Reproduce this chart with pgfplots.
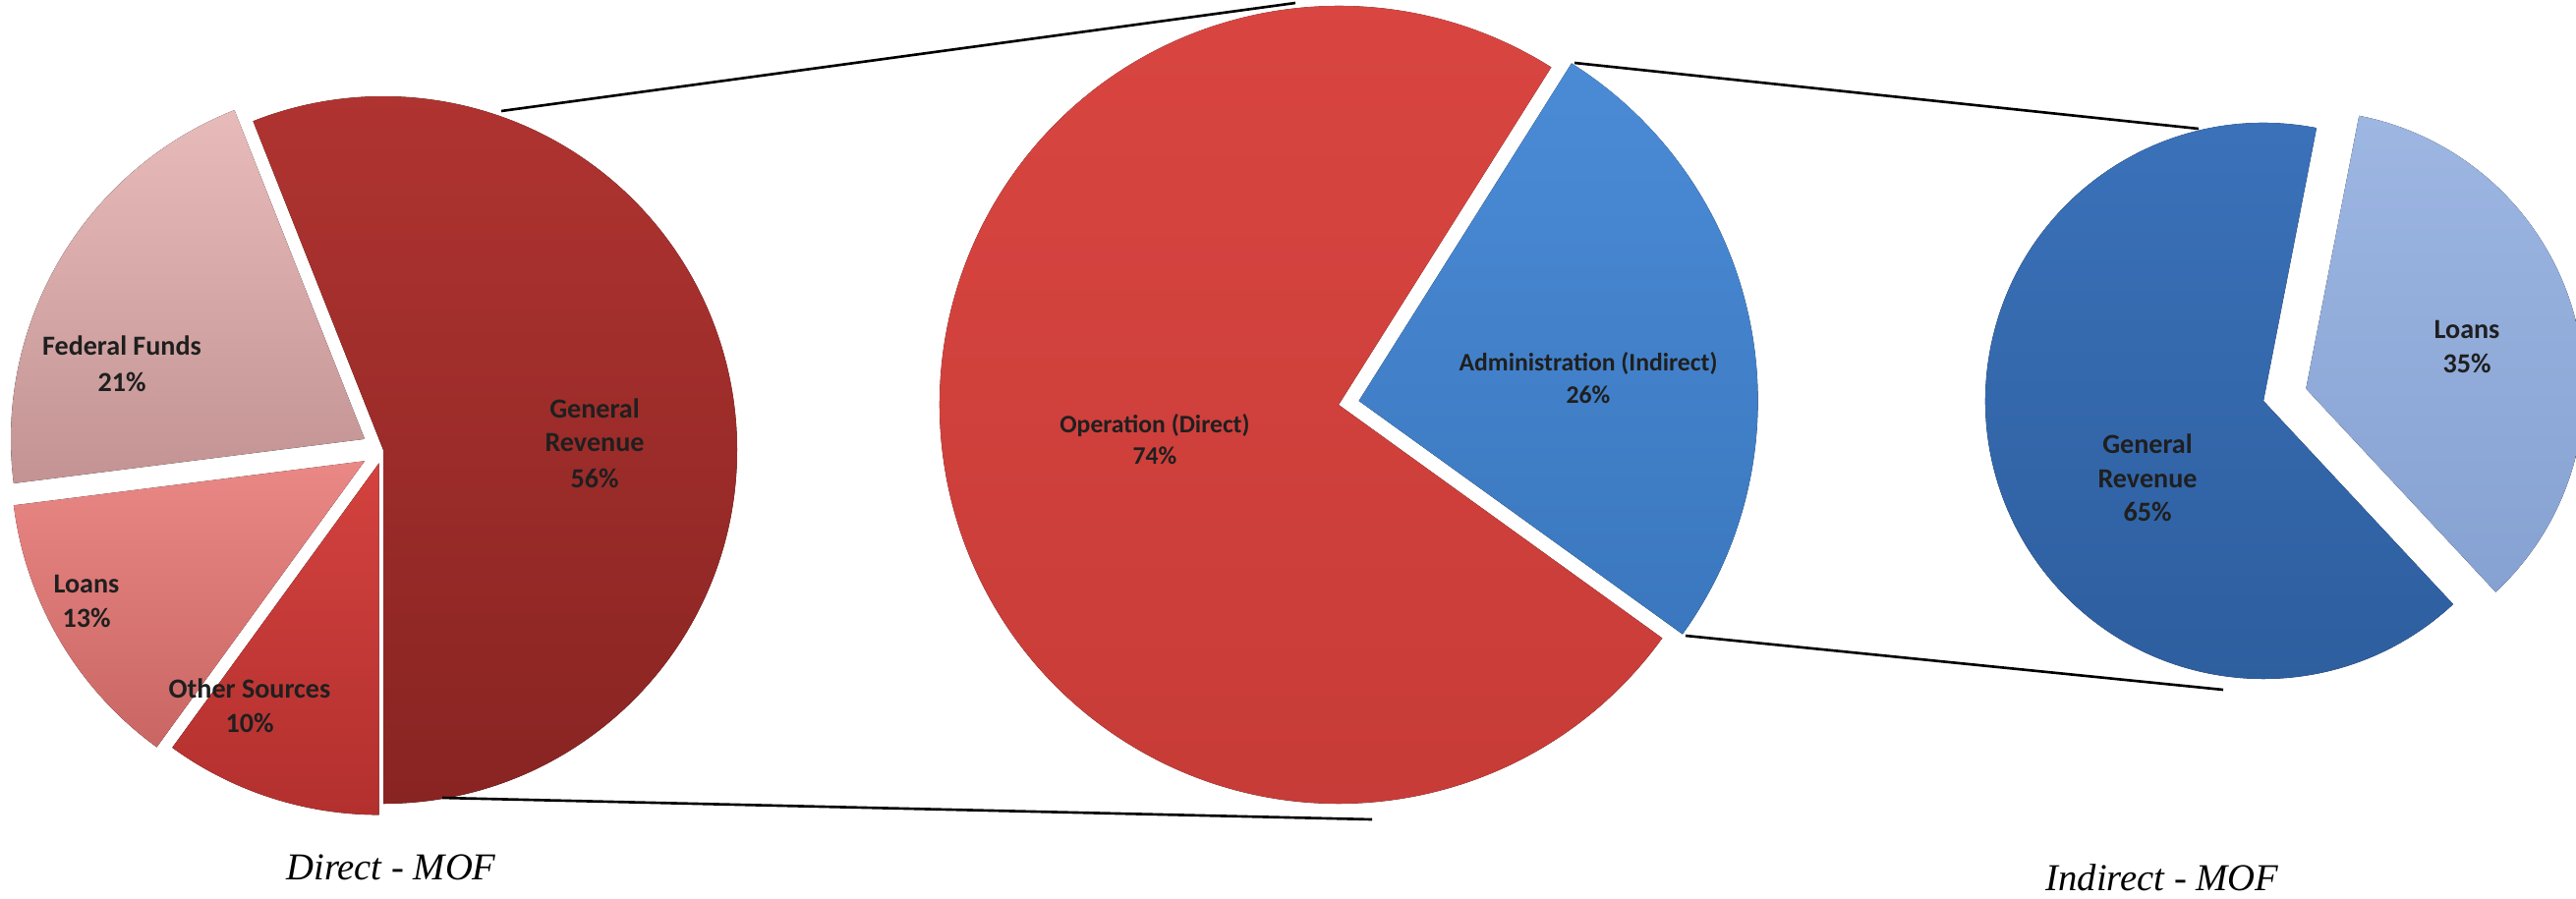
\documentclass[border=0pt]{standalone}
\usepackage{fontspec}
\setmainfont{Carlito}
\newfontfamily\titlefont{Liberation Serif}
\usepackage{pgfplots}
\pgfplotsset{compat=1.18}

% slice: {cx}{cy}{r}{start angle}{percent}{explode}{top colour}{bottom colour}
\newcommand{\slice}[8]{%
  \fill[top color=#7, bottom color=#8, draw=none]
    (axis cs:{#1+#6*cos(#4+1.8*#5)},{#2+#6*sin(#4+1.8*#5)})
    -- (axis cs:{#1+#6*cos(#4+1.8*#5)+#3*cos(#4)},{#2+#6*sin(#4+1.8*#5)+#3*sin(#4)})
    arc[start angle=#4, end angle={#4+3.6*#5}, radius=#3] -- cycle;}

\definecolor{lgrT}{HTML}{B03431}\definecolor{lgrB}{HTML}{882422}
\definecolor{lffT}{HTML}{E8BBBB}\definecolor{lffB}{HTML}{C39393}
\definecolor{llnT}{HTML}{EA8886}\definecolor{llnB}{HTML}{C96664}
\definecolor{lotT}{HTML}{D3423F}\definecolor{lotB}{HTML}{B3302E}
\definecolor{mrdT}{HTML}{DA4641}\definecolor{mrdB}{HTML}{C63B37}
\definecolor{mblT}{HTML}{4B8BD6}\definecolor{mblB}{HTML}{3A77BE}
\definecolor{rgrT}{HTML}{3B72BA}\definecolor{rgrB}{HTML}{2D5E9E}
\definecolor{rlnT}{HTML}{9DB6E2}\definecolor{rlnB}{HTML}{86A2D2}

\tikzset{
  lab/.style={font=\bfseries\fontsize{8}{9.6}\selectfont, text=black!88, inner sep=0pt, anchor=base},
  labm/.style={font=\bfseries\fontsize{7.3}{8.8}\selectfont, text=black!88, inner sep=0pt, anchor=base},
  ttl/.style={font=\titlefont\itshape\fontsize{11}{13}\selectfont, inner sep=0pt, anchor=base}}

\begin{document}
\begin{tikzpicture}
\useasboundingbox (0,0) rectangle (26.21,9.14);
\begin{axis}[x=1cm, y=1cm, xmin=0, xmax=26.21, ymin=0, ymax=9.14,
  hide axis, disabledatascaling, anchor=origin, at={(0,0)}]
% ---- Direct - MOF pie (percent shares) ----
\slice{3.90}{4.56}{3.60}{-90}{56}{0}{lgrT}{lgrB}      % General Revenue
\slice{3.90}{4.56}{3.60}{111.6}{21}{0.22}{lffT}{lffB} % Federal Funds
\slice{3.90}{4.56}{3.60}{187.2}{13}{0.22}{llnT}{llnB} % Loans
\slice{3.90}{4.56}{3.58}{234}{10}{0.14}{lotT}{lotB}   % Other Sources
% ---- middle pie ----
\slice{13.62}{5.02}{4.06}{57.8}{74}{0}{mrdT}{mrdB}    % Operation (Direct)
\slice{13.62}{5.02}{4.06}{-35.8}{26}{0.21}{mblT}{mblB}% Administration (Indirect)
% ---- Indirect - MOF pie ----
\slice{23.03}{5.06}{2.83}{79}{65}{0}{rgrT}{rgrB}      % General Revenue
\slice{23.03}{5.06}{2.83}{-47}{35}{0.45}{rlnT}{rlnB}  % Loans
% ---- connector lines ----
\draw[line width=0.75pt] (axis cs:5.10,8.01) -- (axis cs:13.18,9.11);
\draw[line width=0.75pt] (axis cs:4.50,1.02) -- (axis cs:13.96,0.80);
\draw[line width=0.75pt] (axis cs:16.02,8.50) -- (axis cs:22.37,7.83);
\draw[line width=0.75pt] (axis cs:17.15,2.67) -- (axis cs:22.62,2.12);
% ---- labels ----
\node[lab] at (axis cs:1.24,5.53) {Federal Funds};
\node[lab] at (axis cs:1.24,5.16) {21\%};
\node[lab] at (axis cs:6.05,4.89) {General};
\node[lab] at (axis cs:6.05,4.55) {Revenue};
\node[lab] at (axis cs:6.05,4.18) {56\%};
\node[lab] at (axis cs:0.88,3.11) {Loans};
\node[lab] at (axis cs:0.88,2.76) {13\%};
\node[lab] at (axis cs:2.54,2.04) {Other Sources};
\node[lab] at (axis cs:2.54,1.69) {10\%};
\node[labm] at (axis cs:11.75,4.74) {Operation (Direct)};
\node[labm] at (axis cs:11.75,4.42) {74\%};
\node[labm] at (axis cs:16.16,5.37) {Administration (Indirect)};
\node[labm] at (axis cs:16.16,5.04) {26\%};
\node[lab] at (axis cs:25.10,5.70) {Loans};
\node[lab] at (axis cs:25.10,5.35) {35\%};
\node[lab] at (axis cs:21.85,4.53) {General};
\node[lab] at (axis cs:21.85,4.18) {Revenue};
\node[lab] at (axis cs:21.85,3.84) {65\%};
\node[ttl] at (axis cs:3.98,0.19) {Direct - MOF};
\node[ttl] at (axis cs:22.00,0.08) {Indirect - MOF};
\end{axis}
\end{tikzpicture}
\end{document}
